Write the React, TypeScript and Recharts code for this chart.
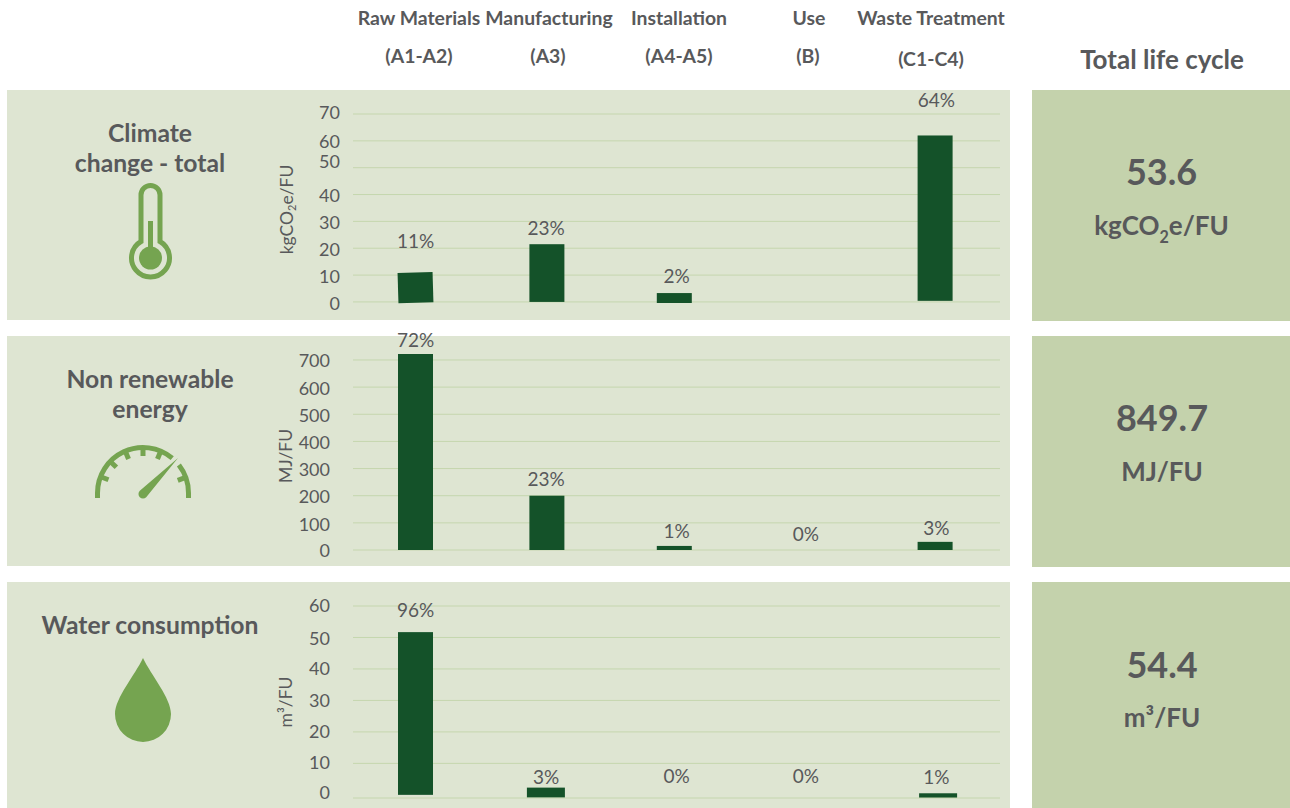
import React from "react";
import { ComposedChart, Bar, Line, XAxis, YAxis, CartesianGrid, LabelList, ReferenceLine } from "recharts";

const stages = ["Raw Materials (A1-A2)", "Manufacturing (A3)", "Installation (A4-A5)", "Use (B)", "Waste Treatment (C1-C4)"];

const climateValues = [11, 21.5, 3.3, 0, 62];
const climateBases = [-0.3, 0, -0.4, 0, 0.4];
const climateShares = ["11%", "23%", "2%", "", "64%"];
const climateTicks = [0, 10, 20, 30, 40, 50, 60, 70];

const energyValues = [722, 200, 15, 0, 30];
const energyBases = [0, 0, 0, 0, 0];
const energyShares = ["72%", "23%", "1%", "0%", "3%"];
const energyTicks = [0, 100, 200, 300, 400, 500, 600, 700];

const waterValues = [51.7, 2.3, 0, 0, 0.5];
const waterBases = [0, -0.9, 0, 0, -1];
const waterShares = ["96%", "3%", "0%", "0%", "1%"];
const waterTicks = [0, 10, 20, 30, 40, 50, 60];
const waterGrid = [10, 20, 30, 40, 50, 60];

const TEXT = "#58595B";
const PANEL = "#DEE5D2";
const TOTAL = "#C4D2AC";
const BAR = "#145229";
const GRID = "#C5D6AE";
const ICON = "#75A450";
const FONT = "Lato, 'Open Sans', sans-serif";
const SHARE_SHIFTS = [-2, -1, 0, 0, 1];

const abs = (left: number, top: number, width: number, height: number): React.CSSProperties => ({
  position: "absolute", left, top, width, height,
});

function Caption({ x, y, size, weight = 700, children }: any) {
  return (
    <div style={{ position: "absolute", left: x - 200, top: y, width: 400, transform: "translateY(-50%)", textAlign: "center",
      fontFamily: FONT, fontSize: size, fontWeight: weight, color: TEXT, whiteSpace: "nowrap", lineHeight: 1.2 }}>
      {children}
    </div>
  );
}

function ImpactChart({ top, height, marginTop, marginBottom, domain, ticks, values, bases, shares, lifts, gridValues, floorValue, unit, tickGap, tickNudges, barShifts, barWidths, barTilts }: any) {
  const data = stages.map((stage, i) => ({ stage, order: i, range: [bases[i], values[i]], top: values[i] }));
  const renderShare = (p: any) => (
    <text x={p.x + SHARE_SHIFTS[p.index]} y={p.y - lifts[p.index]} textAnchor="middle" dominantBaseline="central" fontSize={19} fill={TEXT} fontFamily={FONT}>
      {shares[p.index]}
    </text>
  );
  const renderUnit = (p: any) => {
    const cy = p.viewBox.y + p.viewBox.height / 2;
    return (
      <text x={0} y={0} transform={`translate(278.5 ${cy + unit.shift}) rotate(-90)`} textAnchor="middle" dominantBaseline="central" fontSize={17.5} fill={TEXT} fontFamily={FONT}>
        {unit.node}
      </text>
    );
  };
  const renderTick = (p: any) => (
    <text x={p.x} y={p.y + tickNudges[ticks.indexOf(p.payload.value)]} dy="0.355em" textAnchor="end" fontSize={18} fill={TEXT} fontFamily={FONT}>
      {p.payload.value}
    </text>
  );
  const renderBar = (p: any) => {
    const order = p.payload.order;
    const w = barWidths[order];
    const cx = p.x + p.width / 2 + barShifts[order];
    const yTop = Math.min(p.y, p.y + p.height);
    const h = Math.abs(p.height);
    return <rect x={cx - w / 2} y={yTop} width={w} height={h} fill={BAR} transform={`rotate(${barTilts[order]} ${cx} ${yTop + h / 2})`} />;
  };
  return (
    <div style={abs(0, top, 1003, height)}>
      <ComposedChart width={1003} height={height} data={data} barSize={35} margin={{ top: marginTop, bottom: marginBottom, left: 286, right: 10 }}>
        <CartesianGrid vertical={false} stroke={GRID} strokeWidth={1} horizontalValues={gridValues ?? ticks} />
        {floorValue !== undefined && <ReferenceLine y={floorValue} stroke={GRID} strokeWidth={1} />}
        <XAxis dataKey="stage" hide />
        <YAxis width={60} domain={domain} ticks={ticks} interval={0} axisLine={false} tickLine={false} tickMargin={tickGap}
          tick={renderTick} label={{ content: renderUnit }} />
        <Bar dataKey="range" fill={BAR} isAnimationActive={false} shape={renderBar} />
        <Line dataKey="top" stroke="none" dot={false} activeDot={false} legendType="none" isAnimationActive={false}>
          <LabelList dataKey="top" content={renderShare} />
        </Line>
      </ComposedChart>
    </div>
  );
}

function Thermometer() {
  return (
    <svg style={abs(120, 175, 60, 110)} viewBox="120 175 60 110">
      <path d="M141 241.5 V195 A9.5 9.5 0 0 1 160 195 V241.5 A19 19 0 1 1 141 241.5 Z" fill="none" stroke={ICON} strokeWidth={5} />
      <circle cx={150.5} cy={258} r={11.5} fill={ICON} />
      <rect x={148} y={221} width={5} height={37} fill={ICON} />
    </svg>
  );
}

function Gauge() {
  const c = { x: 143, y: 493 };
  const tickAngles = [159, 136, 113, 90, 67, 20];
  return (
    <svg style={abs(90, 440, 106, 64)} viewBox="90 440 106 64">
      <path d="M97.5 498 V493 A45.5 45.5 0 0 1 172.2 458.1" fill="none" stroke={ICON} strokeWidth={5} />
      <path d="M178.9 465 A45.5 45.5 0 0 1 188.5 493 V498" fill="none" stroke={ICON} strokeWidth={5} />
      {tickAngles.map((a) => {
        const t = (a * Math.PI) / 180;
        return <line key={a} x1={c.x + 44 * Math.cos(t)} y1={c.y - 44 * Math.sin(t)} x2={c.x + 37 * Math.cos(t)} y2={c.y - 37 * Math.sin(t)} stroke={ICON} strokeWidth={5} />;
      })}
      <path d="M178 458 L146.2 497.2 A4.5 4.5 0 0 1 139.8 490.8 Z" fill={ICON} />
    </svg>
  );
}

function Drop() {
  return (
    <svg style={abs(110, 652, 66, 96)} viewBox="110 652 66 96">
      <path d="M143 658 C135 675 115 698 115 714 A28 28 0 0 0 171 714 C171 698 151 675 143 658 Z" fill={ICON} />
    </svg>
  );
}

const Sub = () => <span style={{ fontSize: "0.62em", verticalAlign: "-0.45em", lineHeight: 0 }}>2</span>;

const co2Unit = (
  <>
    <tspan>kgCO</tspan>
    <tspan fontSize={11} dy={5}>2</tspan>
    <tspan dy={-5}>e/FU</tspan>
  </>
);

export default function App() {
  return (
    <div style={{ ...abs(0, 0, 1290, 808), overflow: "hidden", background: "#fff", fontFamily: FONT }}>
      <Caption x={419} y={18} size={19.4}>Raw Materials</Caption>
      <Caption x={419} y={56} size={19.4}>(A1-A2)</Caption>
      <Caption x={549} y={18} size={19.4}>Manufacturing</Caption>
      <Caption x={548} y={56} size={19.4}>(A3)</Caption>
      <Caption x={679} y={18} size={19.4}>Installation</Caption>
      <Caption x={679} y={56} size={19.4}>(A4-A5)</Caption>
      <Caption x={809} y={18} size={19.4}>Use</Caption>
      <Caption x={808} y={56} size={19.4}>(B)</Caption>
      <Caption x={931} y={18} size={19.4}>Waste Treatment</Caption>
      <Caption x={931} y={59} size={19.4}>(C1-C4)</Caption>
      <Caption x={1162} y={60} size={26}>Total life cycle</Caption>

      <div style={{ ...abs(7, 90, 1003, 230), background: PANEL }} />
      <div style={{ ...abs(7, 336, 1003, 230), background: PANEL }} />
      <div style={{ ...abs(7, 582, 1003, 226), background: PANEL }} />
      <div style={{ ...abs(1032, 90, 258, 231), background: TOTAL }} />
      <div style={{ ...abs(1032, 336, 258, 231), background: TOTAL }} />
      <div style={{ ...abs(1032, 582, 258, 226), background: TOTAL }} />

      <div style={abs(7, 0, 0, 0)}>
        <ImpactChart top={80} height={240} marginTop={34} marginBottom={17} domain={[0, 70]} ticks={climateTicks}
          values={climateValues} bases={climateBases} shares={climateShares} lifts={[32, 17, 18, 0, 36]}
          tickGap={7} tickNudges={[2, 2, 1.7, 1, 1, -6, 0.7, -1]}
          barShifts={[-2, 0, -2, 0, 0]} barWidths={[35, 35, 35, 35, 35]} barTilts={[-1.7, 0, 0, 0, 0]}
          unit={{ node: co2Unit, shift: 1 }} />
        <ImpactChart top={326} height={240} marginTop={28} marginBottom={16} domain={[0, 722]} ticks={energyTicks}
          values={energyValues} bases={energyBases} shares={energyShares} lifts={[15, 17, 15, 17, 14]}
          tickGap={17} tickNudges={[1, 2, 1, 1, 1, 1, 1, 1]}
          barShifts={[-2, 0, -2, 0, 0]} barWidths={[35, 35, 35, 35, 35]} barTilts={[0, 0, 0, 0, 0]}
          unit={{ node: "MJ/FU", shift: 4 }} />
        <ImpactChart top={582} height={226} marginTop={24} marginBottom={10} domain={[-1, 60]} ticks={waterTicks}
          gridValues={waterGrid} floorValue={-1}
          values={waterValues} bases={waterBases} shares={waterShares} lifts={[23, 11, 19, 19, 17]}
          tickGap={17} tickNudges={[-2, -1, 0, 0, 0, 1, 0]}
          barShifts={[-2, -1, 0, 0, 3]} barWidths={[35, 38, 35, 35, 38]} barTilts={[0, 0, 0, 0, 0]}
          unit={{ node: "m³/FU", shift: 0 }} />
      </div>

      <Caption x={150} y={133} size={24.7}>Climate</Caption>
      <Caption x={150} y={163} size={24.7}>change - total</Caption>
      <Thermometer />
      <Caption x={150} y={379} size={24.7}>Non renewable</Caption>
      <Caption x={150} y={409} size={24.7}>energy</Caption>
      <Gauge />
      <Caption x={150} y={625} size={24.7}>Water consumption</Caption>
      <Drop />

      <Caption x={1161.5} y={172} size={36}>53.6</Caption>
      <Caption x={1161.5} y={226} size={26}>kgCO<Sub />e/FU</Caption>
      <Caption x={1162} y={418} size={36}>849.7</Caption>
      <Caption x={1162} y={472} size={26}>MJ/FU</Caption>
      <Caption x={1162} y={665} size={36}>54.4</Caption>
      <Caption x={1162} y={718} size={26}>m³/FU</Caption>
    </div>
  );
}
